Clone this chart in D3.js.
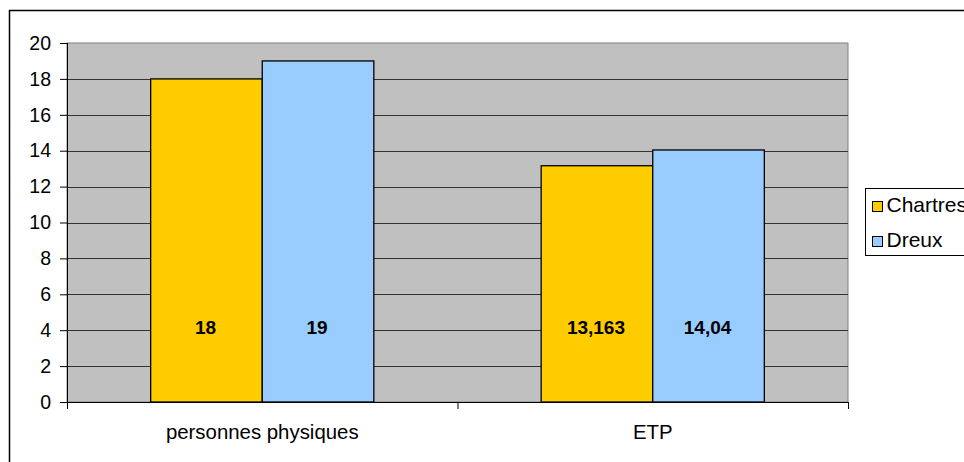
<!DOCTYPE html>
<html><head><meta charset="utf-8">
<script src="https://cdn.jsdelivr.net/npm/d3@7"></script>
<style>body{margin:0;background:#fff}svg{display:block;font-family:"Liberation Sans",Arial,sans-serif}</style>
</head><body>
<script>
const categories = ["personnes physiques", "ETP"];
const seriesNames = ["Chartres", "Dreux"];
const chartresValues = [18, 13.163];
const dreuxValues = [19, 14.04];
const chartresLabels = ["18", "13,163"];
const dreuxLabels = ["19", "14,04"];
const yTicks = [0, 2, 4, 6, 8, 10, 12, 14, 16, 18, 20];
const colors = ["#FFCC00", "#99CCFF"];

const W = 964, H = 462;
const svg = d3.select("body").append("svg").attr("width", W).attr("height", H);

// outer chart frame
svg.append("rect").attr("x", 9.5).attr("y", 10.5).attr("width", 1000).attr("height", 500)
  .attr("fill", "#fff").attr("stroke", "#000").attr("stroke-width", 1.5);

const pLeft = 67, pRight = 848, pTop = 43, pBottom = 402;
const x0 = d3.scaleBand().domain(categories).range([pLeft, pRight]).paddingInner(0).paddingOuter(0);
const y = d3.scaleLinear().domain([0, 20]).range([pBottom, pTop]);
const x1 = d3.scaleBand().domain(seriesNames).range([0, x0.bandwidth()]).paddingInner(0).paddingOuter(0.75);

// plot area
svg.append("rect").attr("x", pLeft).attr("y", pTop).attr("width", pRight - pLeft).attr("height", pBottom - pTop)
  .attr("fill", "#C0C0C0").attr("stroke", "#808080").attr("stroke-width", 1);

// gridlines
svg.append("g").selectAll("line").data(yTicks.filter(d => d > 0 && d < 20)).join("line")
  .attr("x1", pLeft).attr("x2", pRight).attr("y1", d => Math.round(y(d)) + 0.5).attr("y2", d => Math.round(y(d)) + 0.5)
  .attr("stroke", "#333").attr("stroke-width", 1);

const data = categories.map((c, i) => ({cat: c, vals: [
  {s: "Chartres", v: chartresValues[i], l: chartresLabels[i]},
  {s: "Dreux", v: dreuxValues[i], l: dreuxLabels[i]}]}));

const g = svg.append("g").selectAll("g").data(data).join("g")
  .attr("transform", d => `translate(${x0(d.cat)},0)`);
g.selectAll("rect").data(d => d.vals).join("rect")
  .attr("x", d => x1(d.s)).attr("width", x1.bandwidth())
  .attr("y", d => y(d.v)).attr("height", d => y(0) - y(d.v))
  .attr("fill", (d, i) => colors[i]).attr("stroke", "#000").attr("stroke-width", 1.3);
g.selectAll("text").data(d => d.vals).join("text")
  .attr("x", d => x1(d.s) + x1.bandwidth() / 2 - 1).attr("y", y(0) - 68)
  .attr("text-anchor", "middle").attr("font-weight", "bold").attr("font-size", 19).attr("fill", "#000")
  .text(d => d.l);

// y axis
const yAxis = d3.axisLeft(y).tickValues(yTicks).tickSize(7).tickPadding(9).tickFormat(d3.format("d"));
const ya = svg.append("g").attr("transform", `translate(${pLeft},0)`).call(yAxis);
ya.select(".domain").attr("stroke", "#000").attr("d", `M0.5,${pTop}V${pBottom}`);
ya.selectAll(".tick line").attr("stroke", "#000");
ya.selectAll("text").attr("font-size", 19.5).attr("font-family", "Liberation Sans, Arial, sans-serif").attr("fill", "#000");

// x axis
svg.append("line").attr("x1", pLeft).attr("x2", pRight).attr("y1", pBottom + 0.5).attr("y2", pBottom + 0.5).attr("stroke", "#000");
const catTicks = [pLeft, x0(categories[1]), pRight];
svg.append("g").selectAll("line").data(catTicks).join("line")
  .attr("x1", d => d + 0.5).attr("x2", d => d + 0.5).attr("y1", pBottom).attr("y2", pBottom + 7).attr("stroke", "#000");
svg.append("g").selectAll("text").data(categories).join("text")
  .attr("x", d => x0(d) + x0.bandwidth() / 2).attr("y", 439)
  .attr("text-anchor", "middle").attr("font-size", 20.4).attr("fill", "#000").text(d => d);

// legend
const lg = svg.append("g");
lg.append("rect").attr("x", 865.5).attr("y", 188.5).attr("width", 120).attr("height", 67)
  .attr("fill", "#fff").attr("stroke", "#000").attr("stroke-width", 1);
const li = lg.selectAll("g").data(seriesNames).join("g")
  .attr("transform", (d, i) => `translate(0,${i * 35})`);
li.append("rect").attr("x", 872.5).attr("y", 201.5).attr("width", 10).attr("height", 10)
  .attr("fill", (d, i) => colors[i]).attr("stroke", "#000").attr("stroke-width", 1);
li.append("text").attr("x", 886.5).attr("y", 212).attr("font-size", 21).attr("fill", "#000").text(d => d);
</script>
</body></html>
